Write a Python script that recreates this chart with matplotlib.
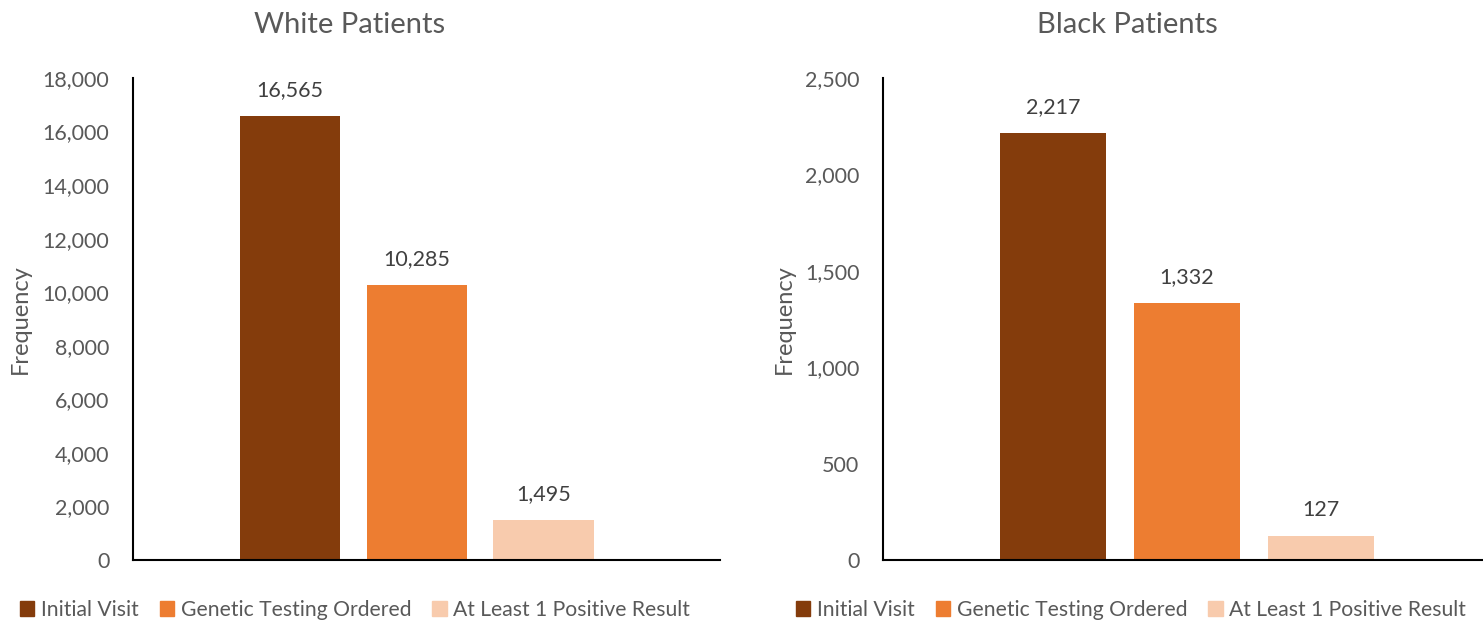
import matplotlib.pyplot as plt
from matplotlib.patches import Patch

# data
series = ['Initial Visit', 'Genetic Testing Ordered', 'At Least 1 Positive Result']
colors = ['#843C0C', '#ED7D31', '#F8CBAD']
white_vals = [16565, 10285, 1495]
black_vals = [2217, 1332, 127]
titles = ['White Patients', 'Black Patients']

plt.rcParams['font.family'] = ['Lato', 'DejaVu Sans']
grey = '#595959'

fig = plt.figure(figsize=(14.83, 6.22), dpi=100)
ax1 = fig.add_axes([133/1483, 62/622, 587/1483, 482/622])
ax2 = fig.add_axes([883/1483, 62/622, 600/1483, 482/622])

def draw(ax, vals, ymax, step, xlim, width, lab_x):
    x = range(len(vals))
    ax.bar(x, vals, width=width, color=colors)
    for xi, v in zip(x, vals):
        ax.text(xi, v + ymax*0.033, f'{v:,}', ha='center', va='bottom',
                fontsize=15.5, color='#404040')
    ax.set_ylim(0, ymax)
    ax.set_xlim(*xlim)
    ax.set_yticks(range(0, ymax + 1, step))
    ax.set_yticklabels([f'{t:,}' for t in range(0, ymax + 1, step)])
    ax.set_xticks([])
    for s in ['top', 'right']:
        ax.spines[s].set_visible(False)
    ax.spines['left'].set_linewidth(1.5)
    ax.spines['bottom'].set_linewidth(1.5)
    ax.tick_params(axis='y', length=0, labelsize=15.5, labelcolor=grey, pad=17)
    ax.set_ylabel('Frequency', fontsize=17, color=grey, va='center')
    ax.yaxis.set_label_coords(lab_x, 0.5)

draw(ax1, white_vals, 18000, 2000, (-1.236, 3.39), 0.79, (20 - 133)/587)
draw(ax2, black_vals, 2500, 500, (-1.27, 3.21), 0.79, (784 - 883)/600)

# titles sit over the chart area incl. axis labels, not the plot box
fig.text(350/1483, 1 - 25/622, titles[0], ha='center', va='center',
         fontsize=21, color=grey)
fig.text(1127/1483, 1 - 25/622, titles[1], ha='center', va='center',
         fontsize=21, color=grey)

handles = [Patch(color=c) for c in colors]
for cx in [355/1483, 1131/1483]:
    fig.legend(handles, series, loc='center', bbox_to_anchor=(cx, 0.02),
               ncol=3, frameon=False, fontsize=15.2, handlelength=0.7,
               handleheight=0.7, handletextpad=0.3, columnspacing=1.0,
               labelcolor=grey)

fig.savefig('out.png', dpi=100)
